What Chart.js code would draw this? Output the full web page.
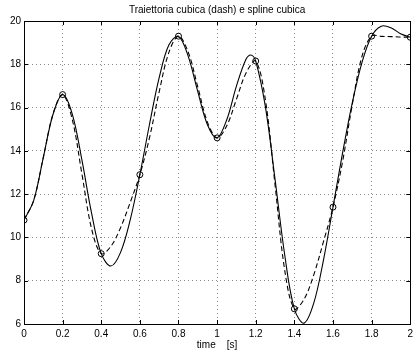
<!DOCTYPE html>
<html>
<head>
<meta charset="utf-8">
<script src="https://cdn.jsdelivr.net/npm/chart.js@4.4.1/dist/chart.umd.min.js"></script>
<style>
  html, body { margin: 0; padding: 0; background: #ffffff; }
  #wrap { width: 417px; height: 351px; }
</style>
</head>
<body>
<div id="wrap"><canvas id="chart" width="417" height="351"></canvas></div>
<script>
// Via points (time [s], position)
const knotTime  = [0, 0.2, 0.4, 0.6, 0.8, 1.0, 1.2, 1.4, 1.6, 1.8, 2.0];
const knotValue = [10.8, 16.6, 9.25, 12.9, 19.3, 14.6, 18.15, 6.7, 11.4, 19.3, 19.25];

// Cubic spline through the via points (solid line)
const splineTime  = [0, 0.05, 0.1, 0.15, 0.2, 0.25, 0.3, 0.35, 0.4, 0.45, 0.5, 0.55, 0.6, 0.65, 0.7, 0.75, 0.8,
                     0.85, 0.9, 0.95, 1.0, 1.05, 1.1, 1.15, 1.175, 1.2, 1.25, 1.3, 1.35, 1.4, 1.45, 1.5, 1.55,
                     1.6, 1.65, 1.7, 1.75, 1.8, 1.85, 1.9, 1.95, 2.0];
const splineValue = [10.8, 11.70, 13.69, 15.68, 16.6, 15.70, 13.57, 11.12, 9.25, 8.68, 9.31, 10.81, 12.9, 15.23, 17.38, 18.89, 19.3,
                     18.38, 16.74, 15.21, 14.6, 15.44, 16.99, 18.24, 18.43, 18.15, 16.04, 12.69, 9.20, 6.7, 6.04, 6.95, 8.92,
                     11.4, 13.92, 16.22, 18.08, 19.3, 19.76, 19.69, 19.41, 19.25];

// Piecewise cubic trajectory between the via points (dashed line)
const cubicTime  = [0, 0.05, 0.1, 0.15, 0.2, 0.25, 0.3, 0.35, 0.4, 0.45, 0.5, 0.55, 0.6, 0.65, 0.7, 0.75, 0.8,
                    0.85, 0.9, 0.95, 1.0, 1.05, 1.1, 1.15, 1.2, 1.25, 1.3, 1.35, 1.4, 1.45, 1.5, 1.55,
                    1.6, 1.65, 1.7, 1.75, 1.8, 1.85, 1.9, 1.95, 2.0];
const cubicValue = [10.8, 11.71, 13.7, 15.69, 16.6, 15.45, 12.93, 10.40, 9.25, 9.59, 10.45, 11.62, 12.9, 14.61, 16.73, 18.54, 19.3,
                    18.57, 16.95, 15.33, 14.6, 15.16, 16.38, 17.60, 18.15, 16.36, 12.43, 8.49, 6.7, 7.14, 8.26, 9.78,
                    11.4, 13.52, 16.14, 18.36, 19.3, 19.29, 19.28, 19.26, 19.25];

// Axis ticks
const xTicks = [0, 0.2, 0.4, 0.6, 0.8, 1.0, 1.2, 1.4, 1.6, 1.8, 2.0];
const xTickLabels = ['0', '0.2', '0.4', '0.6', '0.8', '1', '1.2', '1.4', '1.6', '1.8', '2'];
const yTicks = [6, 8, 10, 12, 14, 16, 18, 20];
const yTickLabels = ['6', '8', '10', '12', '14', '16', '18', '20'];

const FONT = "'Liberation Sans', Arial, Helvetica, sans-serif";
const toPoints = (xs, ys) => xs.map((x, i) => ({ x: x, y: ys[i] }));

// Axes box with inward tick marks on all four sides
const axesFrame = {
  id: 'axesFrame',
  afterDatasetsDraw(chart) {
    const { ctx, chartArea: a, scales } = chart;
    const len = 4;
    ctx.save();
    ctx.strokeStyle = '#000';
    ctx.lineWidth = 1;
    ctx.beginPath();
    xTicks.forEach(v => {
      const px = Math.round(scales.x.getPixelForValue(v)) + 0.5;
      ctx.moveTo(px, a.bottom); ctx.lineTo(px, a.bottom - len);
      ctx.moveTo(px, a.top); ctx.lineTo(px, a.top + len);
    });
    yTicks.forEach(v => {
      const py = Math.round(scales.y.getPixelForValue(v)) + 0.5;
      ctx.moveTo(a.left, py); ctx.lineTo(a.left + len, py);
      ctx.moveTo(a.right, py); ctx.lineTo(a.right - len, py);
    });
    ctx.stroke();
    ctx.strokeRect(Math.round(a.left) + 0.5, Math.round(a.top) + 0.5,
                   Math.round(a.right - a.left), Math.round(a.bottom - a.top));
    ctx.restore();
  }
};

new Chart(document.getElementById('chart'), {
  type: 'line',
  data: {
    datasets: [
      {
        label: 'via points',
        data: toPoints(knotTime, knotValue),
        showLine: false,
        pointStyle: 'circle',
        pointRadius: 3,
        pointBorderWidth: 1,
        pointBorderColor: '#000',
        pointBackgroundColor: 'rgba(0,0,0,0)'
      },
      {
        label: 'spline cubica',
        data: toPoints(splineTime, splineValue),
        borderColor: '#000',
        borderWidth: 1.1,
        pointRadius: 0,
        tension: 0.35,
        fill: false
      },
      {
        label: 'traiettoria cubica',
        data: toPoints(cubicTime, cubicValue),
        borderColor: '#000',
        borderWidth: 1.1,
        borderDash: [5, 3],
        pointRadius: 0,
        tension: 0.35,
        fill: false
      }
    ]
  },
  options: {
    responsive: false,
    animation: false,
    events: [],
    layout: { padding: { left: 0, right: 5, top: 0, bottom: 0 } },
    plugins: {
      legend: { display: false },
      tooltip: { enabled: false },
      title: {
        display: true,
        fullSize: false,
        text: 'Traiettoria cubica (dash) e spline cubica',
        color: '#000',
        font: { family: FONT, size: 10, weight: 'normal' },
        padding: { top: 4, bottom: 5 }
      }
    },
    scales: {
      x: {
        type: 'linear',
        min: 0,
        max: 2,
        afterBuildTicks: s => { s.ticks = xTicks.map(v => ({ value: v })); },
        afterFit: s => { s.height = 27; },
        ticks: {
          color: '#000',
          padding: 4,
          maxRotation: 0,
          autoSkip: false,
          font: { family: FONT, size: 10 },
          callback: (v, i) => xTickLabels[i]
        },
        grid: { color: '#8a8a8a', lineWidth: 1, drawTicks: false, tickBorderDash: [1, 3] },
        border: { display: false, dash: [1, 3] },
        title: {
          display: true,
          text: 'time    [s]',
          color: '#000',
          font: { family: FONT, size: 10 },
          padding: { top: 0, bottom: 0 }
        }
      },
      y: {
        type: 'linear',
        min: 6,
        max: 20,
        afterBuildTicks: s => { s.ticks = yTicks.map(v => ({ value: v })); },
        afterFit: s => { s.width = 24; },
        ticks: {
          color: '#000',
          padding: 3,
          autoSkip: false,
          font: { family: FONT, size: 10 },
          callback: (v, i) => yTickLabels[i]
        },
        grid: { color: '#8a8a8a', lineWidth: 1, drawTicks: false },
        border: { display: false, dash: [1, 3] }
      }
    }
  },
  plugins: [axesFrame]
});
</script>
</body>
</html>
